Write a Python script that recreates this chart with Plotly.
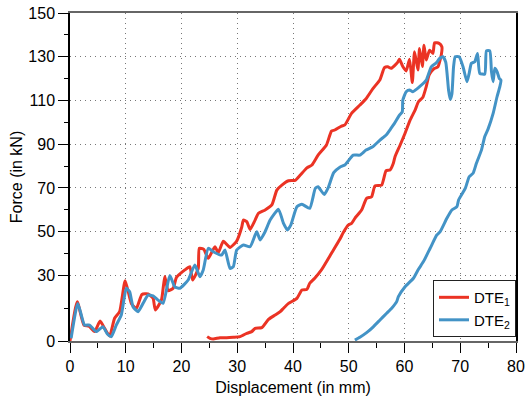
import plotly.graph_objects as go

# Force–displacement records for the two specimens (loading branch followed by unloading branch)
dte1_disp = [0, 1.3, 2.5, 3.4, 4.4, 5.4, 6.2, 7.1, 8.0, 8.9, 9.9, 11.0, 11.9, 12.9, 14.0, 14.9, 15.3,
             16.4, 17.0, 17.6, 18.5, 19.1, 20.6, 21.5, 22.0, 23.0, 23.2, 24.0, 24.8, 26.0, 26.6, 27.5,
             28.7, 29.9, 30.8, 31.1, 31.7, 32.3, 33.2, 33.8, 35.0, 36.2, 37.1, 38.0, 39.2, 40.4, 41.3,
             42.5, 43.4, 44.5, 46.0, 46.9, 47.5, 48.7, 49.3, 50.5, 52.0, 53.1, 54.3, 55.6, 56.4, 57.0,
             57.6, 58.8, 59.1, 59.7, 60.3, 60.9, 61.4, 61.8, 62.4, 62.7, 63.2, 63.5, 63.9, 64.5, 65.1,
             65.4, 66.2, 66.7,
             66.6, 66.0, 65.4, 64.8, 64.4, 63.9, 63.3, 62.5, 61.9, 61.0, 60.1, 59.2, 58.3, 58.0, 57.4,
             56.7, 55.9, 54.7, 54.1, 53.2, 52.3, 51.1, 50.5, 49.9, 49.0, 48.4, 46.9, 45.1, 43.9, 43.0,
             42.5, 41.6, 40.7, 39.2, 38.3, 37.7, 36.8, 35.6, 34.4, 33.2, 32.6, 31.7, 30.5, 29.3, 28.1,
             26.9, 25.7, 25.1, 24.6]
dte1_force = [0, 18, 7.3, 6.8, 4.3, 9.1, 5.8, 2.3, 10.4, 13.4, 27.6, 17.2, 14.9, 21.3, 21.5, 19.5, 14.2,
              18.7, 29.5, 23, 24.1, 29.1, 32.5, 34, 27.9, 33.2, 42.4, 41.9, 37.8, 43.1, 40.4, 45.6,
              42.8, 45.7, 52, 55.3, 54.6, 51, 55.3, 58.4, 59.9, 62.2, 69, 71.3, 73.3, 73.5, 75.9,
              79.2, 80.5, 85, 89.6, 96, 96.5, 98.3, 98.8, 104.1, 107.9, 110.8, 115.3, 119.5, 125, 125.4,
              124.7, 127.5, 128.9, 125.5, 123.5, 128.9, 118.2, 132.3, 123.9, 133.8, 125.5, 135.3, 128.5,
              133, 131.5, 136.4, 136.1, 134.6,
              130.8, 125.4, 124.7, 123.2, 121.6, 116.3, 111.5, 109.4, 105.6, 101, 95, 89.5, 84.3, 81.3,
              78.2, 77.9, 71.3, 70.9, 66, 65.2, 59.9, 56.1, 53.8, 53, 49.5, 46.5, 40.1, 32.5, 28.7, 26.4,
              23.6, 23.3, 19.5, 17.2, 15, 13.4, 11.9, 9.9, 6.1, 5.8, 4.3, 3.5, 2.0, 1.7, 1.5,
              1.5, 0.9, 1.2, 2.0]

dte2_disp = [0.2, 1.4, 2.6, 3.5, 4.7, 5.9, 6.7, 7.4, 8.3, 9.2, 10.1, 10.7, 11.3, 12.2, 13.1, 14.0, 14.9,
             15.8, 16.7, 17.9, 18.8, 19.7, 21.2, 22.4, 23.3, 23.9, 24.8, 25.7, 27.2, 27.8, 28.7, 29.3,
             29.9, 31.1, 32.3, 33.5, 34.1, 35.0, 35.9, 37.4, 38.3, 39.0, 39.6, 40.7, 41.6, 43.0, 44.0,
             44.5, 45.6, 46.3, 47.3, 48.4, 49.3, 50.8, 52.0, 53.1, 54.3, 55.6, 56.7, 57.6, 58.2, 59.1,
             59.6, 59.7, 60.3, 60.9, 61.5, 62.7, 63.9, 64.8, 65.7, 66.3, 66.9, 67.4, 67.9, 68.2, 68.5,
             68.8, 69.1, 69.8, 70.5, 71.2, 71.6, 72.0, 72.6, 73.1, 73.5, 74.4, 74.7, 75.3, 75.6, 75.9,
             76.2, 76.6, 77.0, 77.3,
             77.1, 76.6, 75.9, 75.0, 74.4, 73.8, 72.9, 72.3, 71.6, 71.2, 70.9, 69.7, 69.4, 68.5, 67.6,
             66.4, 65.8, 64.6, 63.4, 62.5, 61.6, 60.1, 58.9, 58.6, 57.7, 56.8, 55.6, 54.4, 53.2, 52.0,
             51.1]
dte2_force = [1.2, 17.2, 7.3, 7.3, 4.3, 6.5, 3.2, 2.0, 7.3, 11.9, 24.1, 22.5, 15.7, 13.4, 17.2, 21, 20.6,
              18.7, 17.2, 30, 24.8, 24.1, 27.9, 34.8, 29.4, 32.5, 42.4, 40.8, 39.3, 41.6, 33.2, 34,
              41.6, 43.9, 43.1, 50, 46.2, 50, 55.3, 60.2, 53.8, 50.8, 53, 61.4, 62.5, 60.7, 69.8,
              70.5, 67, 70, 77, 79.5, 80.5, 85, 85, 87.3, 88.8, 91.9, 94.2, 97.3, 99.5, 103.3,
              104.8, 110.2, 114, 114.8, 114, 116.3, 119.3, 125.4, 127.2, 129.2, 130, 127.5, 114.8, 110.5, 113,
              125.4, 130, 130, 125.4, 118.6, 122.4, 127, 127.7, 131.5, 122.4, 122.1, 132.7, 132.7, 123.2, 118.6,
              124.7, 123.2, 120.1, 119.3,
              116.3, 111.7, 104.1, 97, 93.5, 87.3, 81.3, 76.7, 75.1, 72.1, 69.8, 64.5, 61.4, 59.9, 56.1,
              50, 48.5, 42.4, 36.3, 32.8, 28.7, 24.8, 20.3, 18, 15, 12.7, 9.6, 6.5, 3.8, 1.7,
              0.4]

x_ticks = [0, 10, 20, 30, 40, 50, 60, 70, 80]
x_minor = [5, 15, 25, 35, 45, 55, 65, 75]
y_ticks = [0, 30, 50, 70, 90, 110, 130, 150]
y_minor = [15, 40, 60, 80, 100, 120, 140]

RED = "#eb3324"
BLUE = "#4393c6"
FONT = "Liberation Sans, Arial, sans-serif"

fig = go.Figure()
fig.add_trace(go.Scatter(x=dte1_disp, y=dte1_force, mode="lines", name="DTE<sub>1</sub>",
                         line=dict(color=RED, width=3, shape="spline", smoothing=0.5)))
fig.add_trace(go.Scatter(x=dte2_disp, y=dte2_force, mode="lines", name="DTE<sub>2</sub>",
                         line=dict(color=BLUE, width=3, shape="spline", smoothing=0.5)))

fig.update_layout(
    template="none",
    width=526, height=401,
    margin=dict(l=70, r=10, t=13, b=60, autoexpand=False),
    paper_bgcolor="white", plot_bgcolor="white",
    font=dict(family=FONT, color="black", size=15),
    showlegend=True,
    legend=dict(x=1, y=0.012, xanchor="right", yanchor="bottom",
                bgcolor="white", bordercolor="#222", borderwidth=1,
                font=dict(size=15), tracegroupgap=0),
)

fig.update_xaxes(
    range=[0, 80], tickvals=x_ticks, ticks="outside", ticklen=10, tickwidth=1, tickcolor="black",
    showline=True, linecolor="#666", linewidth=1.5, mirror=True, zeroline=False, automargin=False,
    showgrid=True, gridcolor="#777", gridwidth=1, griddash="1px,4px",
    minor=dict(tickvals=x_minor, ticks="outside", ticklen=5, tickcolor="black", showgrid=False),
    title=dict(text="Displacement (in mm)", font=dict(size=16), standoff=8),
    tickfont=dict(size=16),
)
fig.update_yaxes(
    range=[0, 150], tickvals=y_ticks, ticks="outside", ticklen=10, tickwidth=1, tickcolor="black",
    showline=True, linecolor="black", linewidth=1.5, mirror=True, zeroline=False, automargin=False,
    showgrid=True, gridcolor="#777", gridwidth=1, griddash="1px,4px",
    minor=dict(tickvals=y_minor, ticks="outside", ticklen=4, tickcolor="black", showgrid=False),
    title=dict(text="Force (in kN)", font=dict(size=16), standoff=2),
    tickfont=dict(size=16),
)

fig.write_html("out.html")
